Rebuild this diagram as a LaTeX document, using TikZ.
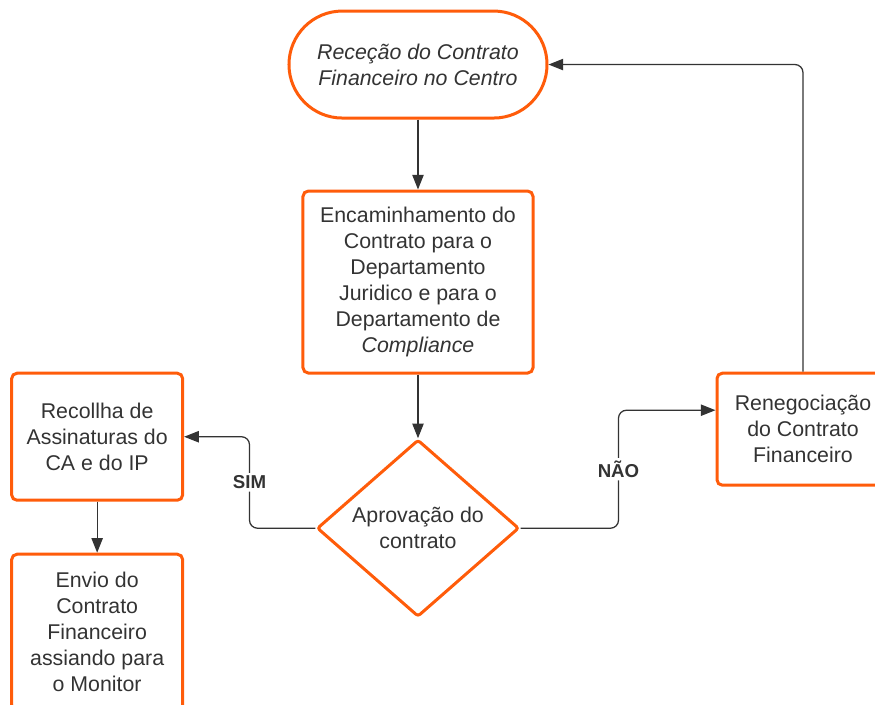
\documentclass[tikz,border=0pt]{standalone}
\usepackage{fontspec}
\setmainfont{Liberation Sans}
\usetikzlibrary{positioning,shapes.geometric,arrows.meta}
\definecolor{laranja}{HTML}{FF5C0A}
\definecolor{cinza}{HTML}{333333}

\begin{document}
\begin{tikzpicture}[
            terminal/.style={draw=laranja, line width=2.25pt, rectangle, rounded corners=40pt, minimum width=193.5pt, minimum height=80.25pt, align=center, text=cinza, font=\fontsize{16}{19.5}\selectfont\itshape},
            processo/.style={draw=laranja, line width=2.25pt, rectangle, rounded corners=4pt, align=center, text=cinza, font=\fontsize{16}{19.5}\selectfont},
            decisao/.style={draw=laranja, line width=2.25pt, diamond, aspect=1.14, inner sep=0pt, rounded corners=2pt, minimum width=151.5pt, minimum height=132.75pt, align=center, text=cinza, font=\fontsize{16}{19.5}\selectfont},
            ligacao/.style={draw=cinza, line width=0.95pt, rounded corners=6pt, -{Triangle[length=11pt, width=8.5pt]}},
            rotulo/.style={fill=white, text=cinza, inner sep=2pt, font=\fontsize{14}{16}\selectfont\bfseries}
        ]

        \useasboundingbox (-313.5pt,48.4pt) rectangle (342.75pt,-479.6pt);

        % Nós
        \node[terminal] (inicio) at (0,0) {Receção do Contrato\\Financeiro no Centro};
        \node[processo, minimum width=172.5pt, minimum height=136.5pt, below=52.5pt of inicio] (encam) {Encaminhamento do\\Contrato para o\\Departamento\\Juridico e para o\\Departamento de\\\textit{Compliance}};
        \node[decisao, below=47.75pt of encam] (aprov) {Aprovação do\\contrato};
        \node[processo, minimum width=128.25pt, minimum height=95.25pt, left=98.5pt of aprov, yshift=68.6pt] (recolha) {Recollha de\\Assinaturas do\\CA e do IP};
        \node[processo, minimum width=128.25pt, minimum height=117pt, below=38.25pt of recolha] (envio) {Envio do\\Contrato\\Financeiro\\assiando para\\o Monitor};
        \node[processo, minimum width=129pt, minimum height=84pt, right=146.25pt of aprov, yshift=74.25pt] (reneg) {Renegociação\\do Contrato\\Financeiro};

        % Ligações
        \draw[ligacao] (inicio) -- (encam);
        \draw[ligacao] (encam) -- (aprov);
        \draw[ligacao] (aprov.west) -- ++(-49.5pt,0) |- (recolha.east) node[pos=0.25, rotulo] {SIM};
        \draw[ligacao] (aprov.east) -- ++(73.5pt,0) |- ([yshift=14.25pt]reneg.west) node[pos=0.25, rotulo] {NÃO};
        \draw[ligacao] (recolha) -- (envio);
        \draw[ligacao] (reneg) |- (inicio);

    \end{tikzpicture}
\end{document}
